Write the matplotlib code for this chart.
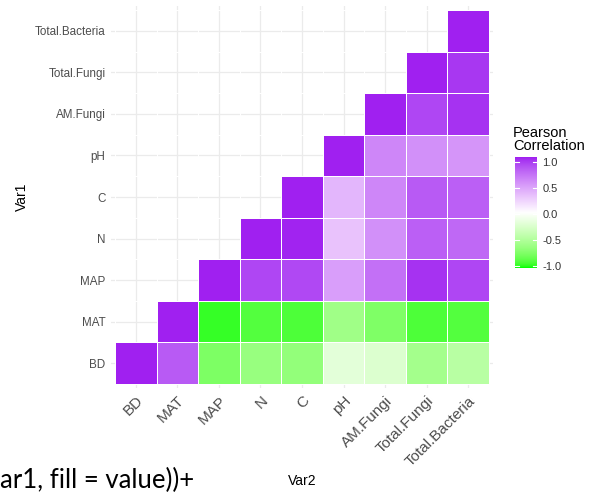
import numpy as np
import matplotlib
matplotlib.use("Agg")
import matplotlib.pyplot as plt
from matplotlib.colors import ListedColormap, Normalize

plt.rcParams["font.family"] = ["Liberation Sans", "DejaVu Sans"]

# variables, bottom-to-top on y and left-to-right on x
variables = ["BD", "MAT", "MAP", "N", "C", "pH", "AM.Fungi", "Total.Fungi", "Total.Bacteria"]

# upper triangle of the Pearson correlation matrix, one list per row (Var1)
r_BD = [1.00, 0.80, -0.75, -0.63, -0.65, -0.19, -0.24, -0.57, -0.46]
r_MAT = [1.00, -0.95, -0.89, -0.90, -0.59, -0.74, -0.90, -0.89]
r_MAP = [1.00, 0.88, 0.87, 0.48, 0.70, 0.95, 0.88]
r_N = [1.00, 0.99, 0.30, 0.55, 0.78, 0.74]
r_C = [1.00, 0.36, 0.60, 0.80, 0.78]
r_pH = [1.00, 0.60, 0.55, 0.53]
r_AMF = [1.00, 0.88, 0.95]
r_TF = [1.00, 0.93]
r_TB = [1.00]
rows = [r_BD, r_MAT, r_MAP, r_N, r_C, r_pH, r_AMF, r_TF, r_TB]

legend_ticks = [1.0, 0.5, 0.0, -0.5, -1.0]


# green -> white -> purple, interpolated in CIELAB like ggplot's gradient2
def to_lab(rgb):
    c = np.asarray(rgb, float)
    c = np.where(c > 0.04045, ((c + 0.055) / 1.055) ** 2.4, c / 12.92)
    m = np.array([[0.4124, 0.3576, 0.1805],
                  [0.2126, 0.7152, 0.0722],
                  [0.0193, 0.1192, 0.9505]])
    xyz = m @ c / np.array([0.95047, 1.0, 1.08883])
    f = np.where(xyz > 0.008856, np.cbrt(xyz), 7.787 * xyz + 16 / 116)
    return np.array([116 * f[1] - 16, 500 * (f[0] - f[1]), 200 * (f[1] - f[2])])


def from_lab(lab):
    L, a, b = lab
    fy = (L + 16) / 116
    f = np.array([fy + a / 500, fy, fy - b / 200])
    xyz = np.where(f ** 3 > 0.008856, f ** 3, (f - 16 / 116) / 7.787)
    xyz = xyz * np.array([0.95047, 1.0, 1.08883])
    m = np.array([[3.2406, -1.5372, -0.4986],
                  [-0.9689, 1.8758, 0.0415],
                  [0.0557, -0.2040, 1.0570]])
    c = m @ xyz
    c = np.where(c > 0.0031308, 1.055 * np.clip(c, 0, None) ** (1 / 2.4) - 0.055, 12.92 * c)
    return np.clip(c, 0, 1)


low = to_lab([0.0, 1.0, 0.0])
mid = to_lab([1.0, 1.0, 1.0])
high = to_lab([160 / 255, 32 / 255, 240 / 255])
cols = []
for t in np.linspace(0, 1, 256):
    if t < 0.5:
        lab = low + (mid - low) * (t / 0.5)
    else:
        lab = mid + (high - mid) * ((t - 0.5) / 0.5)
    cols.append(from_lab(lab))
cmap = ListedColormap(cols)
norm = Normalize(-1, 1)

n = len(variables)
mat = np.full((n, n), np.nan)
for i, row in enumerate(rows):
    mat[i, i:] = row
mat = np.ma.masked_invalid(mat)

fig = plt.figure(figsize=(5.93, 4.92), dpi=100)
ax = fig.add_axes([111 / 593, 1 - 388 / 492, 382 / 593, 382 / 492])
edges = np.arange(n + 1) - 0.5
ax.pcolormesh(edges, edges, mat, cmap=cmap, norm=norm,
              edgecolors="white", linewidth=0.5, zorder=2)
ax.set_xlim(-0.6, n - 0.4)
ax.set_ylim(-0.6, n - 0.4)
ax.set_xticks(range(n))
ax.set_yticks(range(n))
ax.set_xticklabels(variables, rotation=45, ha="right", va="top",
                   rotation_mode="anchor", fontsize=11, color="#4d4d4d")
ax.set_yticklabels(variables, fontsize=8.4, color="#4d4d4d")
ax.tick_params(length=0, pad=4)
ax.grid(True, color="#ebebeb", linewidth=0.9, zorder=0)
ax.set_axisbelow(True)
for s in ax.spines.values():
    s.set_visible(False)
ax.set_xlabel("Var2", fontsize=10, color="black", labelpad=4)
ax.set_ylabel("Var1", fontsize=10, color="black", labelpad=4)

# colour bar legend
cax = fig.add_axes([515 / 593, 1 - 268 / 492, 22 / 593, 111 / 492])
grad = np.linspace(-1, 1, 300).reshape(-1, 1)
cax.imshow(grad, aspect="auto", cmap=cmap, norm=norm, origin="lower",
           extent=[0, 1, -1.04, 1.1])
cax.set_xlim(0, 1)
cax.set_ylim(-1.04, 1.1)
cax.set_xticks([])
cax.yaxis.tick_right()
cax.set_yticks(legend_ticks)
cax.set_yticklabels([f"{v:.1f}" for v in legend_ticks], fontsize=8, color="#333333")
cax.tick_params(axis="y", length=0, pad=4)
for v in legend_ticks:
    cax.plot([0, 0.2], [v, v], color="white", lw=0.8)
    cax.plot([0.8, 1], [v, v], color="white", lw=0.8)
for s in cax.spines.values():
    s.set_visible(False)
fig.text(513 / 593, 1 - 153 / 492, "Pearson\nCorrelation", fontsize=10.5,
         ha="left", va="bottom", linespacing=0.95)

# code fragment along the bottom edge
fig.text(0.0, 1 - 488 / 492, "ar1, fill = value))+", fontsize=18.5,
         family=["Lato", "DejaVu Sans"], ha="left", va="baseline")

fig.savefig("out.png", dpi=100)
